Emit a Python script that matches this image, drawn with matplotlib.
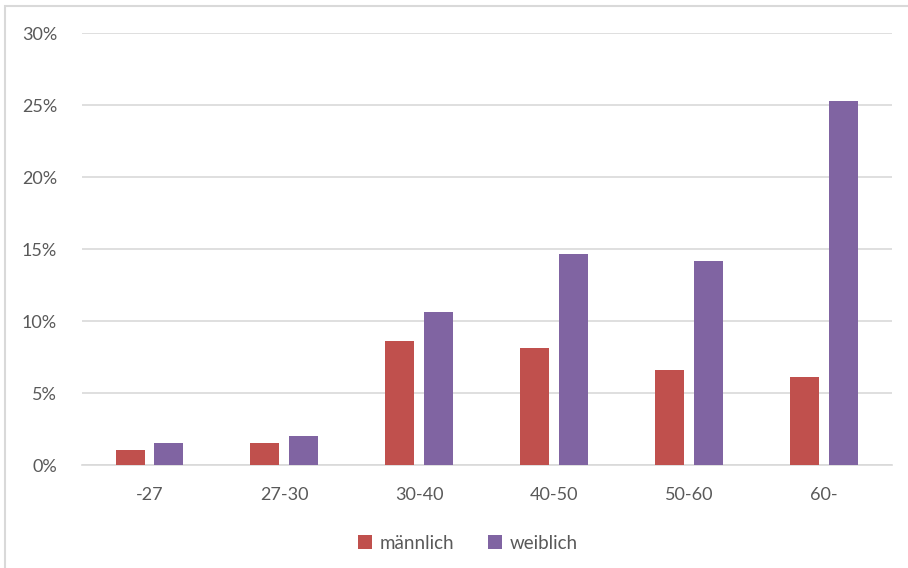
import matplotlib
matplotlib.use("Agg")
import matplotlib.pyplot as plt
from matplotlib.patches import Rectangle
from matplotlib.ticker import PercentFormatter
import numpy as np

categories = ["-27", "27-30", "30-40", "40-50", "50-60", "60-"]
maennlich = [1.05, 1.55, 8.6, 8.1, 6.6, 6.1]
weiblich = [1.55, 2.05, 10.6, 14.65, 14.2, 25.3]

RED = "#C0504D"
PURPLE = "#8064A2"
TEXT = "#595959"
GRID = "#D9D9D9"

plt.rcParams["font.family"] = ["Lato", "DejaVu Sans"]

fig = plt.figure(figsize=(9.08, 5.68), dpi=100)
ax = fig.add_axes([0.0903, 0.1813, 0.8917, 0.7606])

x = np.arange(len(categories))
w = 0.215
off = 0.144
ax.bar(x - off, maennlich, w, color=RED, label="männlich", zorder=3)
ax.bar(x + off, weiblich, w, color=PURPLE, label="weiblich", zorder=3)

ax.set_xlim(-0.5, len(categories) - 0.5)
ax.set_ylim(0, 30)
ax.set_yticks(range(0, 31, 5))
ax.yaxis.set_major_formatter(PercentFormatter(decimals=0))
ax.set_xticks(x)
ax.set_xticklabels(categories)
ax.grid(axis="y", color=GRID, linewidth=1.2, zorder=0)
for s in ["top", "right", "left"]:
    ax.spines[s].set_visible(False)
ax.spines["bottom"].set_color(GRID)
ax.spines["bottom"].set_linewidth(1.2)
ax.tick_params(length=0, colors=TEXT, labelsize=13)
ax.tick_params(axis="x", pad=16)
ax.tick_params(axis="y", pad=18)

fig.legend(loc="center", bbox_to_anchor=(0.515, 0.044), ncol=2, frameon=False,
           fontsize=13.5, labelcolor=TEXT, handlelength=0.75, handleheight=0.75,
           handletextpad=0.4, columnspacing=1.8)

fig.patches.append(Rectangle((0.006, -0.01), 1.2, 0.999, transform=fig.transFigure,
                             fill=False, edgecolor=GRID, linewidth=1.5))

fig.savefig("out.png", dpi=100)
